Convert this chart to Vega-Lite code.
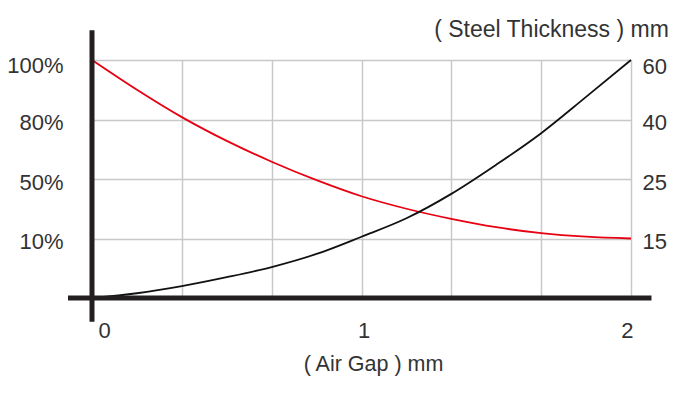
{
  "$schema": "https://vega.github.io/schema/vega-lite/v6.json",
  "autosize": "none",
  "width": 539,
  "height": 238,
  "padding": {"left": 92, "top": 60, "right": 69, "bottom": 100},
  "background": "white",
  "config": {
    "view": {"stroke": null},
    "axis": {
      "labelFont": "Liberation Sans",
      "labelFontSize": 22,
      "labelColor": "#333333",
      "titleFont": "Liberation Sans",
      "titleFontSize": 21.5,
      "titleFontWeight": "normal",
      "titleColor": "#333333",
      "domain": false,
      "ticks": false,
      "gridColor": "#c8c8c8",
      "gridWidth": 1.5,
      "gridOpacity": 1
    }
  },
  "datasets": {
    "curves": [
      {"gap": 0, "y": 4.0, "series": "ratio"},
      {"gap": 0.1667, "y": 3.5, "series": "ratio"},
      {"gap": 0.3333, "y": 3.04, "series": "ratio"},
      {"gap": 0.5, "y": 2.64, "series": "ratio"},
      {"gap": 0.6667, "y": 2.29, "series": "ratio"},
      {"gap": 0.8333, "y": 1.98, "series": "ratio"},
      {"gap": 1.0, "y": 1.71, "series": "ratio"},
      {"gap": 1.1667, "y": 1.5, "series": "ratio"},
      {"gap": 1.3333, "y": 1.33, "series": "ratio"},
      {"gap": 1.5, "y": 1.19, "series": "ratio"},
      {"gap": 1.6667, "y": 1.09, "series": "ratio"},
      {"gap": 1.8333, "y": 1.03, "series": "ratio"},
      {"gap": 2.0, "y": 1.0, "series": "ratio"},
      {"gap": 0, "y": 0.0, "series": "thickness"},
      {"gap": 0.1667, "y": 0.08, "series": "thickness"},
      {"gap": 0.3333, "y": 0.2, "series": "thickness"},
      {"gap": 0.5, "y": 0.35, "series": "thickness"},
      {"gap": 0.6667, "y": 0.52, "series": "thickness"},
      {"gap": 0.8333, "y": 0.74, "series": "thickness"},
      {"gap": 1.0, "y": 1.03, "series": "thickness"},
      {"gap": 1.1667, "y": 1.34, "series": "thickness"},
      {"gap": 1.3333, "y": 1.75, "series": "thickness"},
      {"gap": 1.5, "y": 2.24, "series": "thickness"},
      {"gap": 1.6667, "y": 2.77, "series": "thickness"},
      {"gap": 1.8333, "y": 3.38, "series": "thickness"},
      {"gap": 2.0, "y": 4.0, "series": "thickness"}
    ]
  },
  "layer": [
    {
      "data": {"name": "curves"},
      "mark": {"type": "line", "interpolate": "monotone", "strokeWidth": 1.8},
      "encoding": {
        "x": {
          "field": "gap", "type": "quantitative",
          "scale": {"domain": [0, 2], "nice": false, "zero": false},
          "axis": {
            "values": [0, 0.33333, 0.66667, 1, 1.33333, 1.66667, 2],
            "labelExpr": "abs(datum.value - round(datum.value)) < 0.01 ? format(datum.value, 'd') : ''",
            "labelPadding": 22,
            "labelBaseline": "top",
            "labelOffset": {"condition": {"test": "datum.value == 0", "value": 6}, "value": 2},
            "title": "( Air Gap ) mm",
            "titleX": 281,
            "titleY": 72,
            "titleAlign": "center",
            "titleBaseline": "alphabetic"
          }
        },
        "y": {
          "field": "y", "type": "quantitative",
          "scale": {"domain": [0, 4], "nice": false, "zero": false},
          "axis": {
            "values": [1, 2, 3, 4],
            "labelExpr": "datum.value == 4 ? '100%' : datum.value == 3 ? '80%' : datum.value == 2 ? '50%' : '10%'",
            "labelPadding": 29,
            "labelBaseline": "middle",
            "labelOffset": {"condition": {"test": "datum.value == 4", "value": 5}, "value": 3},
            "title": null
          }
        },
        "color": {
          "field": "series", "type": "nominal",
          "scale": {"domain": ["ratio", "thickness"], "range": ["#e60012", "#111111"]},
          "legend": null
        }
      }
    },
    {
      "data": {"name": "curves"},
      "mark": {"type": "point", "opacity": 0},
      "encoding": {
        "x": {"field": "gap", "type": "quantitative"},
        "y": {
          "field": "y", "type": "quantitative",
          "axis": {
            "orient": "right",
            "values": [1, 2, 3, 4],
            "labelExpr": "datum.value == 4 ? '60' : datum.value == 3 ? '40' : datum.value == 2 ? '25' : '15'",
            "labelPadding": 11,
            "labelBaseline": "middle",
            "labelOffset": {"condition": {"test": "datum.value == 4", "value": 6}, "value": 3},
            "grid": false,
            "title": "( Steel Thickness ) mm",
            "titleFontSize": 23,
            "titleAngle": 0,
            "titleX": -80,
            "titleY": -24,
            "titleAlign": "center",
            "titleBaseline": "alphabetic"
          }
        }
      }
    },
    {
      "data": {"values": [{}]},
      "mark": {"type": "rule", "color": "#231f20", "strokeWidth": 5},
      "encoding": {
        "x": {"datum": 0, "type": "quantitative"},
        "y": {"datum": -0.4, "type": "quantitative", "axis": null},
        "y2": {"datum": 4.5}
      }
    },
    {
      "data": {"values": [{}]},
      "mark": {"type": "rule", "color": "#231f20", "strokeWidth": 5},
      "encoding": {
        "y": {"datum": 0, "type": "quantitative", "axis": null},
        "x": {"datum": -0.089, "type": "quantitative"},
        "x2": {"datum": 2.076}
      }
    }
  ],
  "resolve": {"axis": {"y": "independent"}}
}
